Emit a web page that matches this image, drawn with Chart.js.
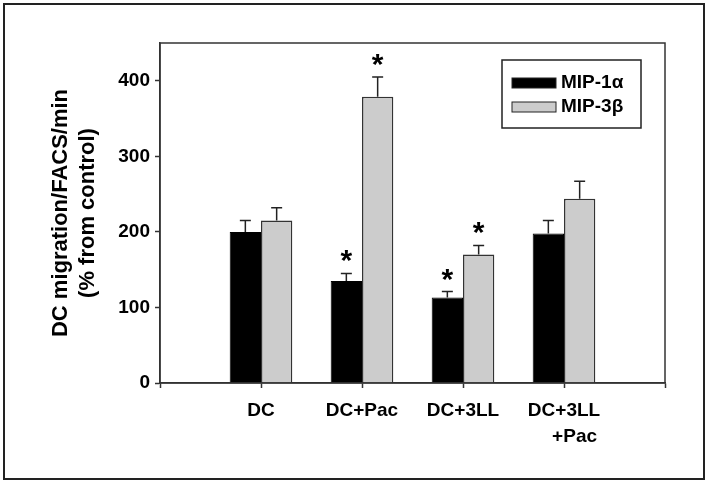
<!DOCTYPE html>
<html>
<head>
<meta charset="utf-8">
<script src="https://cdn.jsdelivr.net/npm/chart.js"></script>
<style>
  body { margin: 0; background: #fff; }
  #wrap { width: 709px; height: 484px; }
</style>
</head>
<body>
<div id="wrap"><canvas id="myChart" width="709" height="484"></canvas></div>
<script>
// x groups (blank slots at both ends so the axis runs past the bars)
const groups = ['', 'DC', 'DC+Pac', 'DC+3LL', ['DC+3LL', '    +Pac'], ''];

// MIP-1a
const mip1a = [null, 200, 135, 113, 198, null];
const mip1aErr = [null, 15, 10, 8, 17, null];
const mip1aStar = [false, false, true, true, false, false];

// MIP-3b
const mip3b = [null, 215, 379, 170, 244, null];
const mip3bErr = [null, 17, 26, 12, 23, null];
const mip3bStar = [false, false, true, true, false, false];

const yTicks = [0, 100, 200, 300, 400];

const errors = [mip1aErr, mip3bErr];
const stars = [mip1aStar, mip3bStar];

const fontFamily = '"Liberation Sans", Arial, Helvetica, sans-serif';
Chart.defaults.font.family = fontFamily;
Chart.defaults.font.weight = 'bold';
Chart.defaults.color = '#000';

// error bars, asterisks, plot frame, legend box, outer frame
const extras = {
  id: 'extras',
  beforeDraw(chart) {
    const ctx = chart.ctx;
    ctx.save();
    ctx.fillStyle = '#fff';
    ctx.fillRect(0, 0, chart.width, chart.height);
    ctx.restore();
  },
  afterDatasetsDraw(chart) {
    const ctx = chart.ctx;
    const y = chart.scales.y;
    ctx.save();
    chart.data.datasets.forEach((ds, i) => {
      const meta = chart.getDatasetMeta(i);
      meta.data.forEach((bar, j) => {
        const v = ds.data[j];
        if (v === null) return;
        const top = y.getPixelForValue(v + errors[i][j]);
        ctx.strokeStyle = '#222';
        ctx.lineWidth = 1.5;
        ctx.beginPath();
        ctx.moveTo(bar.x, bar.y);
        ctx.lineTo(bar.x, top);
        ctx.moveTo(bar.x - 5.5, top);
        ctx.lineTo(bar.x + 5.5, top);
        ctx.stroke();

        if (stars[i][j]) {
          ctx.font = 'bold 30px ' + fontFamily;
          ctx.fillStyle = '#000';
          ctx.textAlign = 'center';
          ctx.textBaseline = 'alphabetic';
          const m = ctx.measureText('*');
          const cy = top - 17;
          const base = cy - (m.actualBoundingBoxDescent - m.actualBoundingBoxAscent) / 2;
          ctx.fillText('*', bar.x, base);
        }
      });
    });
    ctx.restore();
  },
  afterDraw(chart) {
    const ctx = chart.ctx;
    const a = chart.chartArea;
    ctx.save();
    // plot box
    ctx.strokeStyle = '#333';
    ctx.lineWidth = 1.5;
    ctx.strokeRect(a.left, a.top, a.right - a.left, a.bottom - a.top);

    // legend
    const lx = a.right - 163, ly = a.top + 17;
    ctx.strokeStyle = '#222';
    ctx.lineWidth = 1.5;
    ctx.strokeRect(lx, ly, 139, 68);
    ctx.font = 'bold 19px ' + fontFamily;
    ctx.textAlign = 'left';
    ctx.textBaseline = 'middle';
    chart.data.datasets.forEach((ds, i) => {
      const sy = ly + 18 + i * 24;
      ctx.fillStyle = ds.backgroundColor;
      ctx.fillRect(lx + 10, sy, 44, 10);
      ctx.strokeStyle = '#222';
      ctx.lineWidth = 1;
      ctx.strokeRect(lx + 10, sy, 44, 10);
      ctx.fillStyle = '#000';
      ctx.fillText(ds.label, lx + 59, sy + 5);
    });

    // outer frame
    ctx.strokeStyle = '#222';
    ctx.lineWidth = 2;
    ctx.strokeRect(4, 4, 700, 475);
    ctx.restore();
  }
};

const ctx = document.getElementById('myChart');
const myChart = new Chart(ctx, {
  type: 'bar',
  data: {
    labels: groups,
    datasets: [
      {
        label: 'MIP-1\u03b1',
        data: mip1a,
        backgroundColor: '#000000',
        borderColor: '#000000',
        borderWidth: 1
      },
      {
        label: 'MIP-3\u03b2',
        data: mip3b,
        backgroundColor: '#cccccc',
        borderColor: '#333333',
        borderWidth: 1.5
      }
    ]
  },
  options: {
    responsive: false,
    devicePixelRatio: 1,
    animation: false,
    categoryPercentage: 0.62,
    barPercentage: 1.0,
    layout: {
      padding: { top: 43, right: 44, left: 0, bottom: 0 }
    },
    plugins: {
      legend: { display: false },
      tooltip: { enabled: false }
    },
    scales: {
      x: {
        offset: false,
        grid: {
          offset: false,
          drawOnChartArea: false,
          tickLength: 5,
          tickWidth: 1.5,
          tickColor: '#333'
        },
        border: { color: '#333', width: 1.5 },
        ticks: {
          font: { size: 19, weight: 'bold', lineHeight: 1.35 },
          padding: 10,
          maxRotation: 0,
          autoSkip: false
        },
        afterFit(scale) { scale.height = 101; }
      },
      y: {
        min: 0,
        max: 450,
        afterBuildTicks(scale) {
          scale.ticks = yTicks.map(v => ({ value: v }));
        },
        grid: {
          drawOnChartArea: false,
          tickLength: 5,
          tickWidth: 1.5,
          tickColor: '#333'
        },
        border: { color: '#333', width: 1.5 },
        ticks: {
          font: { size: 19, weight: 'bold' },
          padding: 5
        },
        title: {
          display: true,
          text: ['DC migration/FACS/min', '(% from control)'],
          font: { size: 22, weight: 'bold', lineHeight: 1.2 },
          padding: { top: 48, bottom: 0 }
        },
        afterFit(scale) { scale.width = 160; }
      }
    }
  },
  plugins: [extras]
});
</script>
</body>
</html>
